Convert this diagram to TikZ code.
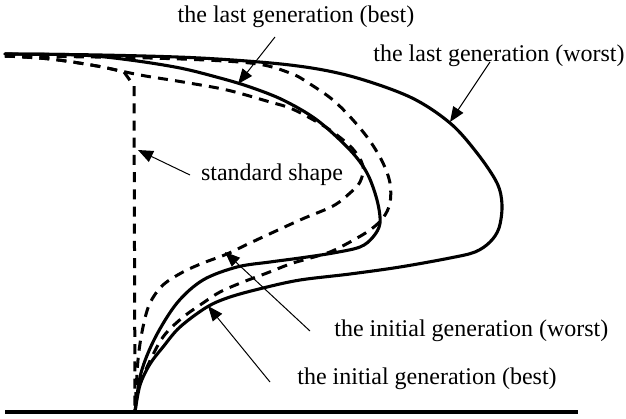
\documentclass[tikz,border=0pt]{standalone}
\usepackage{fontspec}
\setmainfont{Liberation Serif}
\usetikzlibrary{arrows.meta}
\begin{document}
\begin{tikzpicture}[x=0.5pt,y=-0.5pt,
  curve/.style={line width=1.55pt, line join=round, line cap=round},
  dcurve/.style={line width=1.5pt, dash pattern=on 5pt off 3.6pt},
  pointer/.style={line width=0.5pt, -{Triangle[length=7.5pt,width=6pt]}},
  lbl/.style={font=\fontsize{12}{14}\selectfont, inner sep=0pt}]
\useasboundingbox (0,0) rectangle (626,418);
% base line
\coordinate (b0) at (5,412);
\coordinate (b1) at (578,412);
\draw[line width=2pt] (b0) -- (b1);
% last generation (worst): outer solid
\draw[curve] plot[smooth, tension=0.55] coordinates {(5,54) (100,55) (200,58) (290,65) (350,76) (410,97) (450,123) (477,153) (497,183) (502,205) (499,228) (490,242) (475,252) (450,258) (400,267) (350,274) (300,280) (263,288) (230,297) (207,307) (180,327) (163,347) (150,364) (140,385) (135,412)};
% last generation (best): middle solid
\draw[curve] plot[smooth, tension=0.55] coordinates {(5,54) (80,55) (130,60) (180,68) (220,78) (250,87) (283,100) (317,120) (350,150) (367,173) (377,200) (380,223) (373,237) (360,247) (333,253) (300,258) (270,262) (237,267) (203,280) (177,303) (155,338) (141,373) (135,412)};
% initial generation (best): outer dashed
\draw[dcurve] plot[smooth, tension=0.55] coordinates {(5,56) (150,58) (250,63) (290,73) (310,84) (333,100) (353,120) (370,141) (383,163) (390,183) (390,203) (383,218) (370,230) (350,242) (330,252) (307,259) (290,264) (267,273) (243,282) (220,292) (203,303) (182,318) (163,337) (148,365) (138,390) (135,412)};
% initial generation (worst): inner dashed
\draw[dcurve] plot[smooth, tension=0.55] coordinates {(5,56) (50,59) (97,66) (140,75) (183,82) (227,90) (270,102) (290,108) (310,118) (330,130) (352,148) (363,166) (360,182) (350,193) (333,206) (300,220) (250,243) (227,254) (203,263) (183,272) (163,285) (150,303) (143,327) (138,360) (135,412)};
% standard shape
\draw[dcurve] plot[smooth, tension=0.55] coordinates {(5,56) (50,59) (97,66) (124,72)} -- (134,86) -- (135,412);
% labels
\node[lbl] (lastbest) at (296,17) {the last generation (best)};
\node[lbl] (lastworst) at (499,56) {the last generation (worst)};
\node[lbl] (std) at (272,175) {standard shape};
\node[lbl, anchor=west] (initworst) at (334,331) {the initial generation (worst)};
\node[lbl, anchor=west] (initbest) at (297,379) {the initial generation (best)};
% arrows
\coordinate (t1) at (275,37);  \coordinate (h1) at (238,84);
\coordinate (t2) at (490,62);  \coordinate (h2) at (450,122);
\coordinate (t3) at (190,175); \coordinate (h3) at (138,150);
\coordinate (t4) at (310,331); \coordinate (h4) at (225,252);
\coordinate (t5) at (270,382); \coordinate (h5) at (208,306);
\draw[pointer] (t1) -- (h1);
\draw[pointer] (t2) -- (h2);
\draw[pointer] (t3) -- (h3);
\draw[pointer] (t4) -- (h4);
\draw[pointer] (t5) -- (h5);
\end{tikzpicture}
\end{document}
